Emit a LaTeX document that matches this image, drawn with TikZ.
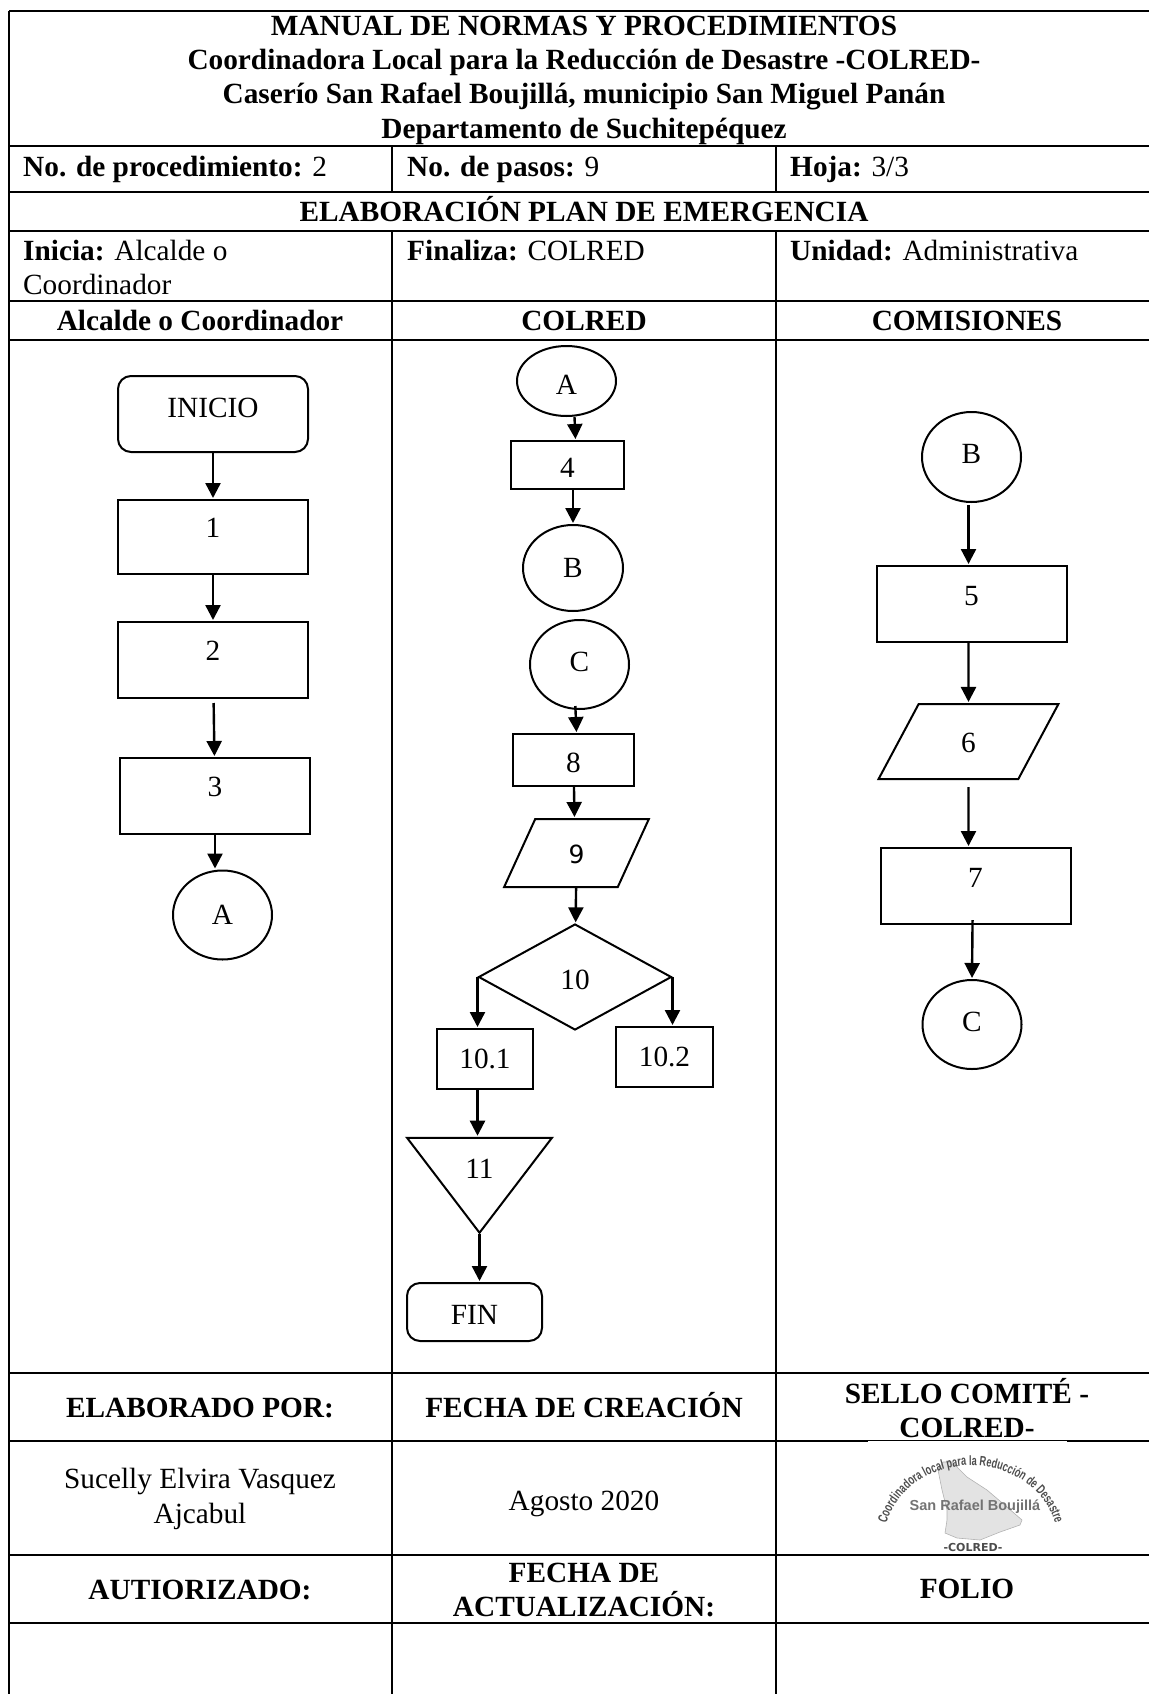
\documentclass[tikz,border=0pt]{standalone}
\usepackage{fontspec}
\setmainfont{Liberation Serif}
\newfontfamily\ninefont{DejaVu Sans}
\newfontfamily\logofont{Liberation Sans}
\newfontfamily\arcfont[FakeStretch=0.68]{Liberation Sans}
\usetikzlibrary{positioning,arrows.meta}
\usetikzlibrary{shapes.geometric,decorations.text}

\tikzset{
  cell/.style={inner sep=0pt,anchor=base,font=\fontsize{29.3}{34.3}\selectfont},
  cellleft/.style={cell,anchor=base west},
  cellblock/.style={cell,anchor=center,align=center},
  shapebase/.style={draw,line width=2pt,inner sep=0pt,font=\fontsize{29.3}{34.3}\selectfont},
  procbox/.style={shapebase,rectangle,minimum width=190pt,minimum height=76pt},
  startbox/.style={procbox,rounded corners=13pt},
  connector/.style={shapebase,ellipse,minimum width=99pt,minimum height=89pt},
  docbox/.style={shapebase,trapezium,trapezium left angle=75,trapezium right angle=105,
    trapezium stretches=true},
  choice/.style={shapebase,diamond,aspect=1.82,minimum width=193pt,minimum height=106pt},
  flowline/.style={line width=2.4pt,shorten >=1pt},
}

\begin{document}
\begin{tikzpicture}[x=1pt,y=-1pt,on grid,>={Triangle[length=15pt,width=15pt]}]
  \useasboundingbox (0,0) rectangle (1149,1694);

  % table
  \draw[line width=2.6pt] (9,11) -- (1149,11) (9,11) -- (9,1694);
  \foreach \y in {146,192,231,301,340,1373,1441,1555,1623}
    \draw[line width=2.6pt] (9,\y) -- (1149,\y);
  \foreach \x in {392,776} {
    \draw[line width=2.6pt] (\x,146) -- (\x,192);
    \draw[line width=2.6pt] (\x,231) -- (\x,1694);
  }

  % headings
  \node[cellblock] (title) at (584,80) {\textbf{MANUAL DE NORMAS Y PROCEDIMIENTOS}\\
    \textbf{Coordinadora Local para la Reducción de Desastre -COLRED-}\\
    \textbf{Caserío San Rafael Boujillá, municipio San Miguel Panán}\\
    \textbf{Departamento de Suchitepéquez}};
  \node[cellleft] (nproc) at (23,176) {\textbf{No. de procedimiento:} 2};
  \node[cellleft] (npasos) at (407,176) {\textbf{No. de pasos:} 9};
  \node[cellleft] (hoja) at (790,176) {\textbf{Hoja:} 3/3};
  \node[cell] (plan) at (584,221) {\textbf{ELABORACIÓN PLAN DE EMERGENCIA}};
  \node[cellleft] (inicia) at (23,260) {\textbf{Inicia:} Alcalde o};
  \node[cellleft] (inicia2) at (23,294) {Coordinador};
  \node[cellleft] (finaliza) at (407,260) {\textbf{Finaliza:} COLRED};
  \node[cellleft] (unidad) at (790,260) {\textbf{Unidad:} Administrativa};
  \node[cell] (head1) at (200,330) {\textbf{Alcalde o Coordinador}};
  \node[cell] (head2) at (584,330) {\textbf{COLRED}};
  \node[cell] (head3) at (967,330) {\textbf{COMISIONES}};

  % first column
  \node[startbox,text depth=12pt] (inicio) at (213,414) {INICIO};
  \node[procbox,minimum height=74pt,text depth=18pt] (p_1) [below =123pt of inicio] {1};
  \node[procbox,text depth=18pt] (p_2) [below =123pt of p_1] {2};
  \node[procbox,text depth=18pt] (p_3) [below right =136pt and 2pt of p_2] {3};
  \node[connector] (a_out) [below right =119pt and 7.5pt of p_3] {A};

  % second column
  \node[connector,minimum height=70pt,text height=26pt] (a_in) at (566.5,381) {A};
  \node[procbox,minimum width=113pt,minimum height=48pt,text height=25pt] (p_4) [below right =84pt and 1pt of a_in] {4};
  \node[connector,minimum width=100pt,minimum height=86pt] (b_out) [below right =103pt and 5.5pt of p_4] {B};
  \node[connector,text depth=6pt] (c_in) [below right =96.5pt and 6.5pt of b_out] {C};
  \node[procbox,minimum width=121pt,minimum height=52pt,text height=26pt] (p_8) [below left =95.5pt and 6pt of c_in] {8};
  \node[docbox,minimum width=145pt,minimum height=68pt,font=\fontsize{25}{30}\ninefont,text height=22pt] (p_9) [below right =93pt and 3pt of p_8] {9};
  \node[choice,text height=26pt] (p_10) [below left =124pt and 1.5pt of p_9] {10};
  \node[procbox,minimum width=96pt,minimum height=60pt] (p_10a) [below left =82pt and 90pt of p_10] {10.1};
  \node[procbox,minimum width=97pt,minimum height=60pt] (p_10b) [below right =80pt and 89.5pt of p_10] {10.2};
  \node[shapebase,isosceles triangle,isosceles triangle apex angle=75,shape border rotate=-90,
    isosceles triangle stretches=true,minimum width=145pt,minimum height=95pt,anchor=center] (p_11)
    [below left =110pt and 5.5pt of p_10a] {11};
  \node[startbox,minimum width=135pt,minimum height=58pt,text height=25pt] (fin) at (474.5,1312) {FIN};

  % third column
  \node[connector,minimum height=90pt,text depth=6pt] (b_in) at (971.5,457) {B};
  \node[procbox,text depth=16pt] (p_5) [below =147pt of b_in] {5};
  \node[docbox,minimum width=180pt,minimum height=75pt,text depth=0pt,text height=22pt] (p_6) [below left =137.5pt and 3pt of p_5] {6};
  \node[procbox,text depth=16pt] (p_7) [below right =144.5pt and 7pt of p_6] {7};
  \node[connector,text depth=6pt] (c_out) [below left =138.5pt and 3.5pt of p_7] {C};

  \path[->,flowline]
  (inicio) edge (p_1)
  (p_1) edge (p_2)
  (p_2) edge [shorten <=4pt] (p_3)
  (p_3) edge (a_out.north -| p_3)
  ([xshift=8pt]a_in.south) edge ([xshift=8pt]p_4.north)
  ([xshift=5.5pt]p_4.south) edge (b_out.north)
  ([xshift=-4pt]c_in.south) edge [shorten <=-4pt] ([xshift=3pt]p_8.north)
  (p_8) edge ([xshift=-2pt]p_9.north)
  (p_9) edge (p_10)
  (p_10.west) edge (p_10.west |- p_10a.north)
  (p_10.east) edge (p_10.east |- p_10b.north)
  (p_10.west |- p_10a.south) edge (p_10.west |- p_11.north)
  (p_11.apex) edge (p_11.apex |- fin.north)
  ([xshift=-3pt]b_in.south) edge [shorten <=2pt] ([xshift=-3pt]p_5.north)
  ([xshift=-3pt]p_5.south) edge (p_6)
  (p_6) edge [shorten <=7pt] ([xshift=-7pt]p_7.north)
  ([xshift=-3pt]p_7.south) edge [shorten <=-5pt] (c_out.north)
  ;

  % bottom rows
  \node[cell] (elab) at (200,1417) {\textbf{ELABORADO POR:}};
  \node[cell] (creacion) at (584,1417) {\textbf{FECHA DE CREACIÓN}};
  \node[cellblock] (sello) at (967,1408) {\textbf{SELLO COMITÉ -}\\\textbf{COLRED-}};
  \node[cellblock] (autor) at (200,1499) {Sucelly Elvira Vasquez\\Ajcabul};
  \node[cell] (fecha) at (584,1510) {Agosto 2020};
  \node[cell] (autorizado) at (200,1599) {\textbf{AUTIORIZADO:}};
  \node[cellblock] (actual) at (584,1590) {\textbf{FECHA DE}\\\textbf{ACTUALIZACIÓN:}};
  \node[cell] (folio) at (967,1598) {\textbf{FOLIO}};

  % seal
  \fill[white] (868,1441) rectangle (1067,1443);
  \filldraw[fill=gray!22,draw=gray!60,line width=.6pt] (943,1462) -- (952,1462) -- (967,1477)
    -- (987,1490) -- (1007,1507) -- (1022,1520) -- (1020,1525) -- (1000,1532) -- (980,1540)
    -- (957,1538) -- (945,1533) -- (947,1520) -- (947,1510) -- (942,1490) -- (938,1470) -- cycle;
  \path[decorate,decoration={text along path,text align=center,
      text={|\fontsize{13.5}{14}\arcfont\bfseries\color{black!70}|Coordinadora local para la Reducción de Desastre}}]
    (884,1537) arc (184:356:87 and 77);
  \node[font=\fontsize{14.5}{16}\logofont\bfseries,text=black!55,inner sep=0pt] (seal_name) at (975,1507) {San Rafael Boujillá};
  \node[font=\fontsize{11}{13}\ninefont\bfseries,text=black!70,inner sep=0pt] (seal_colred) at (973,1547) {-COLRED-};
\end{tikzpicture}
\end{document}
